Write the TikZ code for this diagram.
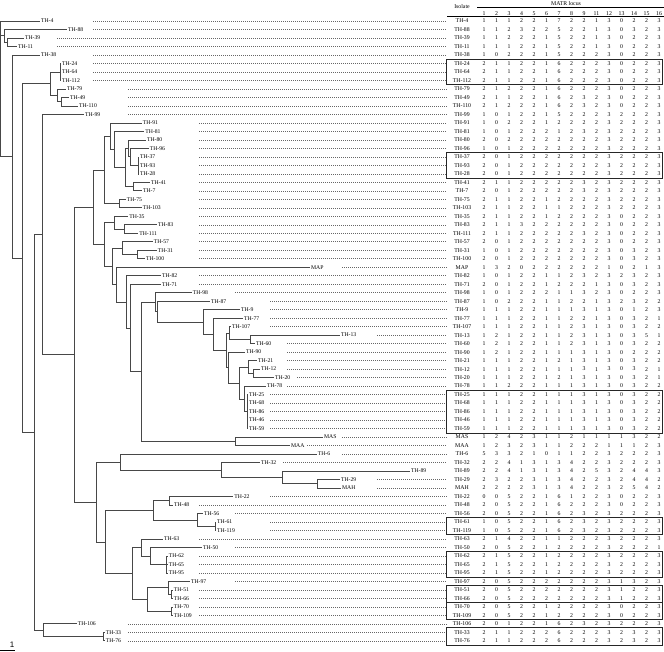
\documentclass[tikz,border=0pt]{standalone}
\usepackage{fontspec}
\setmainfont{Liberation Serif}
\setsansfont{Liberation Sans}
\usepackage{tikz}
\usetikzlibrary{fit,calc}
\newcommand\stripbraces[1]{#1}

\begin{document}
\begin{tikzpicture}[
    x=1pt, y=-1pt,
    branch/.style={
        draw=black!72,
        line width=0.6pt
    },
    leader/.style={
        draw=black!60,
        line width=0.5pt,
        dash pattern=on 0.6pt off 1.4pt
    },
    tip/.style={
        anchor=west,
        inner sep=0.9pt,
        font=\fontsize{5.7}{6}\selectfont
    },
    iso/.style={
        minimum width=31pt,
        minimum height=8.49pt,
        inner sep=0pt,
        font=\fontsize{5.8}{6}\selectfont
    },
    cell/.style={
        minimum width=6.6pt,
        minimum height=8.49pt,
        inner sep=0pt,
        font=\fontsize{5.8}{6}\selectfont
    },
    colhead/.style={
        inner sep=0pt,
        font=\fontsize{5.8}{6}\selectfont
    },
    grpbox/.style={
        draw=black!85,
        line width=0.9pt,
        inner sep=0pt
    }
]
    \useasboundingbox (0,0) rectangle (664,652);

    % ====== table head ======
    \node[colhead] (locus) at (566,3.6) {MATR locus};
    \node[colhead] (isohead) at (462,7) {Isolate};
    \coordinate (rule1L) at (477,7.6);
    \coordinate (rule1R) at (664,7.6);
    \draw[line width=0.8pt] (rule1L) -- (rule1R);
    \foreach \c [count=\k] in {1,2,3,4,5,6,7,8,9,11,12,13,14,15,16} {
        \pgfmathsetmacro\xx{484+12.5*(\k-1)}
        \node[colhead] (c\k) at (\xx,13.3) {\c};
    }
    \coordinate (rule2L) at (447,16.6);
    \coordinate (rule2R) at (664,16.6);
    \draw[line width=0.5pt] (rule2L) -- (rule2R);

    % ====== rows: tip label, leader, isolate, locus values ======
    \foreach \key/\name/\tx/\ld/\vals [count=\i] in {
        4/TH-4/40/93/{1,1,1,2,2,1,7,2,2,1,3,0,2,2,3},
        88/TH-88/67/93/{1,1,2,3,2,2,5,2,2,1,3,0,3,2,3},
        39/TH-39/24/57/{1,1,2,2,2,1,5,2,2,1,3,0,2,2,3},
        11/TH-11/17/57/{1,1,1,2,2,1,5,2,2,1,3,0,2,2,3},
        38/TH-38/40/93/{1,0,2,2,2,1,5,2,2,2,3,0,2,2,3},
        24/TH-24/61/93/{2,1,1,2,2,1,6,2,2,2,3,0,2,2,3},
        64/TH-64/61/93/{2,1,1,2,2,1,6,2,2,2,3,0,2,2,3},
        112/TH-112/61/93/{2,1,1,2,2,1,6,2,2,2,3,0,2,2,3},
        79/TH-79/66/128/{2,1,2,2,2,1,6,2,2,2,3,0,2,2,3},
        49/TH-49/69/128/{2,1,1,2,2,1,6,2,3,2,3,0,2,2,3},
        110/TH-110/78/128/{2,1,2,2,2,1,6,2,3,2,3,0,2,2,3},
        99/TH-99/84/128/{1,0,1,2,2,1,5,2,2,2,3,2,2,2,3},
        91/TH-91/141.7/199/{1,0,2,2,2,1,2,2,2,2,3,2,2,2,3},
        81/TH-81/144.3/199/{1,0,1,2,2,2,1,2,3,2,3,2,2,2,3},
        80/TH-80/146/199/{2,0,2,2,2,2,2,2,2,2,3,2,2,2,3},
        96/TH-96/148.7/199/{1,0,1,2,2,2,2,2,2,2,3,2,2,2,3},
        37/TH-37/139/199/{2,0,1,2,2,2,2,2,2,2,3,2,2,2,3},
        93/TH-93/139/199/{2,0,1,2,2,2,2,2,2,2,3,2,2,2,3},
        28/TH-28/139/199/{2,0,1,2,2,2,2,2,2,2,3,2,2,2,3},
        41/TH-41/150/199/{2,1,1,2,2,2,2,2,3,2,3,2,2,2,3},
        7/TH-7/142/199/{2,0,1,2,2,2,2,2,3,2,3,2,2,2,3},
        75/TH-75/125.7/199/{2,1,1,2,2,1,2,2,2,2,3,2,2,2,3},
        103/TH-103/141.7/199/{2,1,1,2,2,1,1,2,2,2,3,2,2,2,3},
        35/TH-35/128.3/199/{2,1,1,2,2,1,2,2,2,2,3,0,2,2,3},
        83/TH-83/157/199/{2,1,1,3,2,2,2,2,2,2,3,0,2,2,3},
        111/TH-111/138.3/199/{2,1,1,2,2,2,2,2,3,2,3,0,2,2,3},
        57/TH-57/152.7/199/{2,0,1,2,2,2,2,2,2,2,3,0,2,2,3},
        31/TH-31/156.7/199/{1,0,1,2,2,2,2,2,2,2,3,0,3,2,3},
        100/TH-100/145/199/{2,0,1,2,2,2,2,2,2,2,3,0,3,2,3},
        MAP/MAP/310/342/{1,3,2,0,2,2,2,2,2,2,1,0,2,1,3},
        82/TH-82/161/199/{1,0,1,2,2,1,1,2,3,2,3,2,3,2,3},
        71/TH-71/161/199/{2,0,1,2,2,1,2,2,2,1,3,0,3,2,3},
        98/TH-98/191.7/235/{1,0,1,2,2,2,1,1,3,2,3,0,2,2,3},
        87/TH-87/210/270/{1,0,2,2,2,1,1,2,2,1,3,2,3,2,2},
        9/TH-9/240/270/{1,1,1,2,2,1,1,1,3,1,3,0,1,2,3},
        77/TH-77/243/270/{1,1,1,2,2,1,1,2,2,1,3,0,3,2,1},
        107/TH-107/231/270/{1,1,1,2,2,1,1,2,3,1,3,0,3,2,2},
        13/TH-13/340/377/{1,2,1,2,2,1,1,2,3,1,3,0,3,5,1},
        60/TH-60/255/287/{1,2,1,2,2,1,1,2,3,1,3,0,3,2,2},
        90/TH-90/245/287/{1,2,1,2,2,1,1,1,3,1,3,0,2,2,2},
        21/TH-21/257/287/{1,1,1,2,2,1,2,1,3,1,3,0,3,2,2},
        12/TH-12/260/287/{1,1,1,2,2,1,1,1,3,1,3,0,3,2,1},
        20/TH-20/274/297/{1,1,1,2,2,1,2,1,3,1,3,0,3,2,1},
        78/TH-78/266/287/{1,1,2,2,2,1,1,1,3,1,3,0,3,2,2},
        25/TH-25/248/270/{1,1,1,2,2,1,1,1,3,1,3,0,3,2,2},
        68/TH-68/248/270/{1,1,1,2,2,1,1,1,3,1,3,0,3,2,2},
        86/TH-86/248/270/{1,1,1,2,2,1,1,1,3,1,3,0,3,2,2},
        46/TH-46/248/270/{1,1,1,2,2,1,1,1,3,1,3,0,3,2,2},
        59/TH-59/248/270/{1,1,1,2,2,1,1,1,3,1,3,0,3,2,2},
        MAS/MAS/323/342/{1,2,4,2,3,1,1,2,1,1,1,1,3,2,2},
        MAA/MAA/290/307/{1,2,3,2,3,1,1,2,2,2,1,1,1,2,3},
        6/TH-6/316.7/342/{5,3,3,2,1,0,1,1,2,2,3,2,2,2,3},
        32/TH-32/260/283/{2,2,4,1,3,1,3,4,2,2,3,2,2,2,3},
        89/TH-89/410/446/{2,2,4,1,3,1,3,4,2,5,3,2,4,4,3},
        29/TH-29/340/377/{2,3,2,2,3,1,3,4,2,2,3,2,4,4,2},
        MAH/MAH/341/377/{2,2,2,2,3,1,3,4,2,2,3,2,5,4,2},
        22/TH-22/233.3/270/{0,0,5,2,2,1,6,1,2,2,3,0,2,2,3},
        48/TH-48/173/199/{2,0,5,2,2,1,6,2,2,2,3,0,2,2,3},
        56/TH-56/203/235/{2,0,5,2,2,1,6,2,3,2,3,2,2,2,3},
        61/TH-61/216/270/{1,0,5,2,2,1,6,2,3,2,3,2,2,2,3},
        119/TH-119/216/270/{1,0,5,2,2,1,6,2,3,2,3,2,2,2,3},
        63/TH-63/163/199/{2,1,4,2,2,1,1,2,2,2,3,2,2,2,3},
        50/TH-50/202/235/{2,0,5,2,2,1,2,2,2,2,3,2,2,2,1},
        62/TH-62/167.7/199/{2,1,5,2,2,1,2,2,2,2,3,2,2,2,3},
        65/TH-65/167.7/199/{2,1,5,2,2,1,2,2,2,2,3,2,2,2,3},
        95/TH-95/167.7/199/{2,1,5,2,2,1,2,2,2,2,3,2,2,2,3},
        97/TH-97/190/235/{2,0,5,2,2,2,2,2,2,2,3,1,3,2,3},
        51/TH-51/172.7/199/{2,0,5,2,2,2,2,2,2,2,3,1,2,2,3},
        66/TH-66/172.7/199/{2,0,5,2,2,2,2,2,2,2,3,1,2,2,3},
        70/TH-70/172.7/199/{2,0,5,2,2,1,2,2,2,2,3,0,2,2,3},
        109/TH-109/172.7/199/{2,0,5,2,2,1,2,2,2,2,3,0,2,2,3},
        106/TH-106/76.7/128/{2,0,1,2,2,1,6,2,3,2,3,2,2,2,3},
        33/TH-33/104.7/128/{2,1,1,2,2,2,6,2,2,2,3,2,3,2,3},
        76/TH-76/104.7/128/{2,1,1,2,2,2,6,2,2,2,3,2,3,2,3}} {
        \pgfmathsetmacro\yy{21+8.49*(\i-1)}
        \node[tip] (t\key) at (\tx,\yy) {\name};
        \node[iso] (i\key) at (462,\yy) {\name};
        \coordinate (d\key) at (\ld,\yy);
        \ifdim\ld pt<440pt \draw[leader] (d\key) -- (i\key.west); \fi
        \edef\vlist{\expandafter\stripbraces\vals}
        \foreach \v [count=\k] in \vlist {
            \pgfmathsetmacro\xx{484+12.5*(\k-1)}
            \node[cell] (v\key-\k) at (\xx,\yy) {\v};
        }
    }

    % groups of identical profiles
    \foreach \a/\b in {24/112, 37/28, 25/59, 61/119, 62/95, 51/66, 70/109, 33/76} {
        \node[grpbox, fit=(i\a) (v\b-15)] (box\a) {};
    }

    % ====== tree: inner nodes ======
    \coordinate (root) at (0.7,88.7);
    \coordinate (n88) at (4,35.7);
    \coordinate (n39) at (7.5,42.2);
    \coordinate (nA) at (12.7,156.5);
    \coordinate (n2) at (22.7,258);
    \coordinate (n24g) at (50.7,83.6);
    \coordinate (n24) at (60,71.9);
    \coordinate (n79) at (57.3,95.3);
    \coordinate (n49) at (61,101.7);
    \coordinate (n3) at (34,432.3);
    \coordinate (n4) at (42.7,234.5);
    \coordinate (n5) at (74,354.6);
    \coordinate (n6) at (93.7,207.2);
    \coordinate (n7) at (104,169.9);
    \coordinate (n8) at (110.3,136.2);
    \coordinate (n9) at (114,149.4);
    \coordinate (n125) at (125,167.5);
    \coordinate (n80) at (128.3,148.4);
    \coordinate (n96) at (130,156.8);
    \coordinate (n37) at (138,165.3);
    \coordinate (n41) at (133.7,186.6);
    \coordinate (n75) at (119.7,203.5);
    \coordinate (n104) at (104.3,244.5);
    \coordinate (n35) at (114,222.6);
    \coordinate (n83) at (124,229);
    \coordinate (nX) at (112.7,266.3);
    \coordinate (n57) at (122.7,248.1);
    \coordinate (n31) at (137.3,254.5);
    \coordinate (nY) at (116,284.6);
    \coordinate (nZ) at (126.7,301.9);
    \coordinate (nV) at (130.7,328);
    \coordinate (nW) at (141.7,371.7);
    \coordinate (n98) at (155,302.2);
    \coordinate (n87) at (157.7,311.6);
    \coordinate (n9b) at (203.3,322);
    \coordinate (n77) at (213.3,334.2);
    \coordinate (n107p) at (226.3,350.2);
    \coordinate (n107) at (229.3,333);
    \coordinate (n13) at (250.7,339.4);
    \coordinate (n90) at (228.3,367.5);
    \coordinate (n239) at (239.3,382.9);
    \coordinate (n21) at (248.3,367);
    \coordinate (n12) at (253.7,373.3);
    \coordinate (n78) at (244.3,398.8);
    \coordinate (n25) at (247,411.5);
    \coordinate (nMAS) at (235,441.3);
    \coordinate (nB) at (96.7,502);
    \coordinate (n6b) at (120,462);
    \coordinate (n32) at (221.7,470);
    \coordinate (n89) at (282.7,477.4);
    \coordinate (n29) at (317.3,483.7);
    \coordinate (n105) at (105,541.9);
    \coordinate (n153) at (153,510.3);
    \coordinate (n22) at (169.7,500.7);
    \coordinate (n56) at (197.3,519.8);
    \coordinate (n61) at (215,526.2);
    \coordinate (n132) at (132.7,573.4);
    \coordinate (n63) at (141.7,547.4);
    \coordinate (n50) at (150.3,555.9);
    \coordinate (n62) at (166.7,564.4);
    \coordinate (n147) at (147.3,599.4);
    \coordinate (n97) at (168.7,587.7);
    \coordinate (n51) at (171.7,594.1);
    \coordinate (n70) at (171.7,611.1);
    \coordinate (n43) at (43.3,630.2);
    \coordinate (n33) at (103.7,636.5);

    % ====== tree: branches ======
    \foreach \p/\kids in {
        root/{t4.west,n88,nA}, n88/{t88.west,n39}, n39/{t39.west,t11.west},
        nA/{t38.west,n2}, n2/{n24g,n3}, n24g/{n24,n79},
        n24/{t24.west,t64.west,t112.west}, n79/{t79.west,n49}, n49/{t49.west,t110.west},
        n3/{n4,n43}, n4/{t99.west,n5}, n5/{n6,nB}, n6/{n7,n104}, n7/{n8,n75},
        n8/{t91.west,n9}, n9/{t81.west,n125}, n125/{n80,n41}, n80/{t80.west,n96},
        n96/{t96.west,n37}, n37/{t37.west,t93.west,t28.west}, n41/{t41.west,t7.west},
        n75/{t75.west,t103.west}, n104/{n35,nX}, n35/{t35.west,n83},
        n83/{t83.west,t111.west}, nX/{n57,nY}, n57/{t57.west,n31},
        n31/{t31.west,t100.west}, nY/{tMAP.west,nZ}, nZ/{t82.west,nV},
        nV/{t71.west,nW}, nW/{n98,nMAS}, n98/{t98.west,n87}, n87/{t87.west,n9b},
        n9b/{t9.west,n77}, n77/{t77.west,n107p}, n107p/{n107,n90},
        n107/{t107.west,n13}, n13/{t13.west,t60.west}, n90/{t90.west,n239},
        n239/{n21,n78}, n21/{t21.west,n12}, n12/{t12.west,t20.west},
        n78/{t78.west,n25}, n25/{t25.west,t68.west,t86.west,t46.west,t59.west},
        nMAS/{tMAS.west,tMAA.west}, nB/{n6b,n105}, n6b/{t6.west,n32},
        n32/{t32.west,n89}, n89/{t89.west,n29}, n29/{t29.west,tMAH.west},
        n105/{n153,n132}, n153/{n22,n56}, n22/{t22.west,t48.west},
        n56/{t56.west,n61}, n61/{t61.west,t119.west}, n132/{n63,n147},
        n63/{t63.west,n50}, n50/{t50.west,n62}, n62/{t62.west,t65.west,t95.west},
        n147/{n97,n70}, n97/{t97.west,n51}, n51/{t51.west,t66.west},
        n70/{t70.west,t109.west}, n43/{t106.west,n33}, n33/{t33.west,t76.west}} {
        \edef\klist{\expandafter\stripbraces\kids}
        \foreach \c in \klist { \draw[branch] (\p) |- (\c); }
    }

    % scale bar
    \node[font=\sffamily\fontsize{8}{8}\selectfont, inner sep=0pt] (scalelbl) at (12,645) {1};
    \coordinate (scaleL) at (0,650.5);
    \coordinate (scaleR) at (15,650.5);
    \draw[line width=0.7pt] (scaleL) -- (scaleR);

\end{tikzpicture}
\end{document}
